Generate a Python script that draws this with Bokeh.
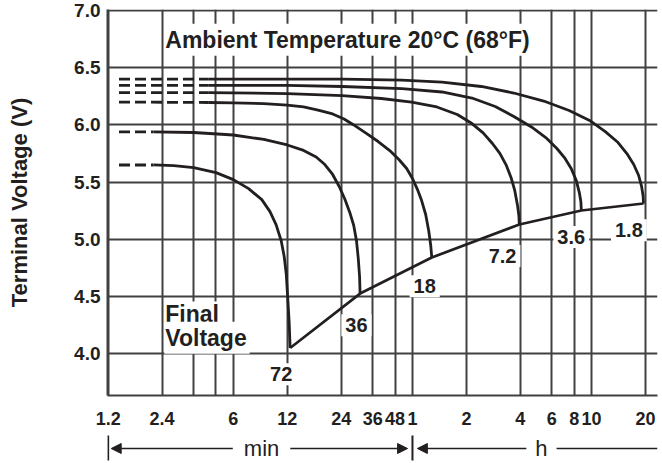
from bokeh.plotting import figure
from bokeh.layouts import column
from bokeh.models import FixedTicker, Label, Arrow, NormalHead, PrintfTickFormatter, Range1d
from bokeh.embed import file_html
from bokeh.resources import INLINE

INK = "#231f20"
GRID = "#404040"
FONT = "Liberation Sans"

# ---- data: discharge time (minutes) and terminal voltage (V) -------------
# the first two points of each curve form the dashed lead-in
t_72 = [1.38, 2.15, 2.79, 3.6, 4.8, 6.0, 7.30, 8.65, 9.61, 10.39, 11.1, 11.54, 11.84, 12.07, 12.3, 12.45]
v_72 = [5.65, 5.65, 5.645, 5.627, 5.583, 5.522, 5.443, 5.347, 5.242, 5.128, 4.988, 4.848, 4.699, 4.489, 4.27, 4.05]

t_36 = [1.38, 2.15, 3.6, 6.0, 8.88, 12.0, 14.8, 17.4, 19.45, 21.5, 23.4, 25.2, 26.8, 28.2, 29.2, 29.9, 30.4, 30.6]
v_36 = [5.94, 5.94, 5.934, 5.912, 5.873, 5.825, 5.777, 5.720, 5.654, 5.567, 5.462, 5.348, 5.235, 5.121, 4.990, 4.832, 4.675, 4.526]

t_18 = [1.38, 4.34, 6.0, 8.88, 12.0, 14.8, 17.83, 21.5, 24.9, 28.2, 33.0, 38.6, 44.8, 50.4, 55.7, 60.0, 64.0, 67.5, 71.1, 73.9, 75.9, 76.9]
v_18 = [6.20, 6.196, 6.193, 6.187, 6.174, 6.157, 6.130, 6.096, 6.052, 6.000, 5.929, 5.855, 5.776, 5.698, 5.619, 5.532, 5.435, 5.339, 5.217, 5.077, 4.946, 4.841]

t_7_2 = [1.38, 4.34, 12.0, 24.3, 40.2, 59.3, 82.1, 106.7, 128.9, 148.8, 167.7, 184.5, 200.6, 213.0, 223.4, 231.6, 235.6, 237]
v_7_2 = [6.283, 6.283, 6.274, 6.257, 6.231, 6.200, 6.157, 6.091, 6.012, 5.930, 5.838, 5.751, 5.646, 5.541, 5.427, 5.296, 5.208, 5.130]

t_3_6 = [1.38, 4.34, 12.0, 24.3, 52.4, 87.7, 128.9, 173.8, 220.8, 277, 332.9, 384.1, 426.6, 461.6, 493, 512.6, 522.6, 526]
v_3_6 = [6.345, 6.345, 6.345, 6.336, 6.318, 6.288, 6.235, 6.161, 6.074, 5.982, 5.890, 5.794, 5.707, 5.619, 5.514, 5.409, 5.331, 5.252]

t_1_8 = [1.38, 4.34, 12.0, 24.3, 52.4, 87.7, 145.3, 220.8, 324.3, 449.6, 584.9, 715.6, 843.2, 944.5, 1031.6, 1099, 1141, 1162.7, 1170]
v_1_8 = [6.40, 6.40, 6.401, 6.401, 6.392, 6.375, 6.336, 6.279, 6.209, 6.126, 6.039, 5.942, 5.846, 5.750, 5.654, 5.558, 5.462, 5.383, 5.313]

rate_names = ["72", "36", "18", "7.2", "3.6", "1.8"]
curves_t = [t_72, t_36, t_18, t_7_2, t_3_6, t_1_8]
curves_v = [v_72, v_36, v_18, v_7_2, v_3_6, v_1_8]

x_tick_values = [1.2, 2.4, 6, 12, 24, 36, 48, 60, 120, 240, 360, 480, 600, 1200]
x_tick_labels = ["1.2", "2.4", "6", "12", "24", "36", "48", "1", "2", "4", "6", "8", "10", "20"]
x_grid_values = [1.2, 2.4, 3.6, 4.8, 6, 12, 24, 36, 48, 60, 120, 240, 360, 480, 600, 1200]
y_tick_values = [4.0, 4.5, 5.0, 5.5, 6.0, 6.5, 7.0]

# label anchor positions (minutes, volts)
rate_label_t = [11.1, 29.2, 70.2, 191, 462, 969]
rate_label_v = [3.82, 4.25, 4.59, 4.855, 5.02, 5.08]

unit_names = ["min", "h"]
unit_label_t = [8.62, 315]
min_span = [1.2, 60]      # minutes section of the time axis
h_span = [60, 1400]       # hours section

x_range = Range1d(1.19, 1400)

# ---- main figure -----------------------------------------------------------
p = figure(width=662, height=433, x_axis_type="log",
           x_range=x_range, y_range=Range1d(3.635, 7.009),
           output_backend="svg", toolbar_location=None,
           min_border_left=107, min_border_right=5, min_border_top=9, min_border_bottom=38)
p.outline_line_color = None
p.background_fill_color = "white"
p.border_fill_color = "white"

for ax in (p.xaxis[0], p.yaxis[0]):
    ax.major_tick_line_color = None
    ax.minor_tick_line_color = None
    ax.major_tick_out = 0
    ax.major_tick_in = 0
    ax.minor_tick_out = 0
    ax.minor_tick_in = 0
    ax.axis_line_color = GRID
    ax.axis_line_width = 2
    ax.major_label_text_font = FONT
    ax.major_label_text_font_style = "bold"
    ax.major_label_text_color = INK

p.xaxis.major_label_text_font_size = "18px"
p.yaxis.major_label_text_font_size = "19px"

p.xaxis.ticker = FixedTicker(ticks=x_tick_values)
p.xaxis.major_label_overrides = {v: s for v, s in zip(x_tick_values, x_tick_labels)}
p.xaxis.major_label_standoff = 16

p.yaxis.ticker = FixedTicker(ticks=y_tick_values)
p.yaxis.formatter = PrintfTickFormatter(format="%.1f")
p.yaxis.major_label_standoff = 7
p.yaxis.axis_label = "Terminal Voltage (V)"
p.yaxis.axis_label_text_font = FONT
p.yaxis.axis_label_text_font_style = "bold"
p.yaxis.axis_label_text_font_size = "22px"
p.yaxis.axis_label_text_color = INK
p.yaxis.axis_label_standoff = 39

p.xgrid.ticker = FixedTicker(ticks=x_grid_values)
p.ygrid.ticker = FixedTicker(ticks=y_tick_values)
p.grid.grid_line_color = GRID
p.grid.grid_line_width = 2
p.grid.minor_grid_line_color = None


def add_text(fig, x, y, s, size, align="center", weight="bold", pad=4, level="underlay"):
    fig.add_layout(Label(x=x, y=y, text=s, text_font=FONT, text_font_size=f"{size}px",
                         text_font_style=weight, text_color=INK, text_align=align,
                         text_baseline="middle", background_fill_color="white",
                         padding=pad, level=level))


# white-backed texts inside the frame (they interrupt the grid)
add_text(p, 2.47, 6.745, "Ambient Temperature 20°C (68°F)", 23, align="left",
         pad=dict(left=1, right=4, top=3, bottom=3))
add_text(p, 2.47, 4.33, "Final", 23, align="left", pad=dict(left=1, right=3, top=0, bottom=3))
add_text(p, 2.47, 4.14, "Voltage", 23, align="left", pad=dict(left=1, right=3, top=3, bottom=3))
for lt, lv, name in zip(rate_label_t, rate_label_v, rate_names):
    add_text(p, lt, lv, name, 20, pad=4)

# discharge curves
for t, v in zip(curves_t, curves_v):
    p.line(t[:2], v[:2], line_color=INK, line_width=2.8, line_dash="11 5")
    p.line(t[1:], v[1:], line_color=INK, line_width=2.8, line_join="round")

# final-voltage line through the curve ends
p.line([t[-1] for t in curves_t], [v[-1] for v in curves_v],
       line_color=INK, line_width=2.7, line_join="round")

# ---- strip below: min / h arrows ----------------------------------------
q = figure(width=662, height=30, x_axis_type="log", x_range=x_range, y_range=Range1d(0, 30),
           output_backend="svg", toolbar_location=None,
           min_border_left=107, min_border_right=5, min_border_top=0, min_border_bottom=0)
q.xaxis.visible = False
q.yaxis.visible = False
q.grid.visible = False
q.outline_line_color = None
q.background_fill_color = "white"
q.border_fill_color = "white"

ROW = 15
BAR_TOP, BAR_BOT = 28, 3


def head():
    return NormalHead(size=10, fill_color=INK, line_color=INK)


for bx in (min_span[0], min_span[1]):
    q.add_layout(Arrow(x_start=bx, y_start=BAR_TOP, x_end=bx, y_end=BAR_BOT, end=None,
                       line_color=INK, line_width=2))
q.add_layout(Arrow(x_start=min_span[0] * 1.04, y_start=ROW, x_end=min_span[1] / 1.065, y_end=ROW,
                   start=head(), end=head(), line_color=INK, line_width=1.6))
q.add_layout(Arrow(x_start=h_span[0] * 1.065, y_start=ROW, x_end=h_span[1], y_end=ROW,
                   start=head(), end=None, line_color=INK, line_width=1.6))
add_text(q, unit_label_t[0], ROW, unit_names[0], 22, weight="normal",
         pad=dict(left=11, right=11, top=0, bottom=0), level="annotation")
add_text(q, unit_label_t[1], ROW, unit_names[1], 22, weight="normal",
         pad=dict(left=9, right=9, top=0, bottom=0), level="annotation")

layout = column(p, q, spacing=0)
open("out.html", "w").write(file_html(layout, INLINE))
